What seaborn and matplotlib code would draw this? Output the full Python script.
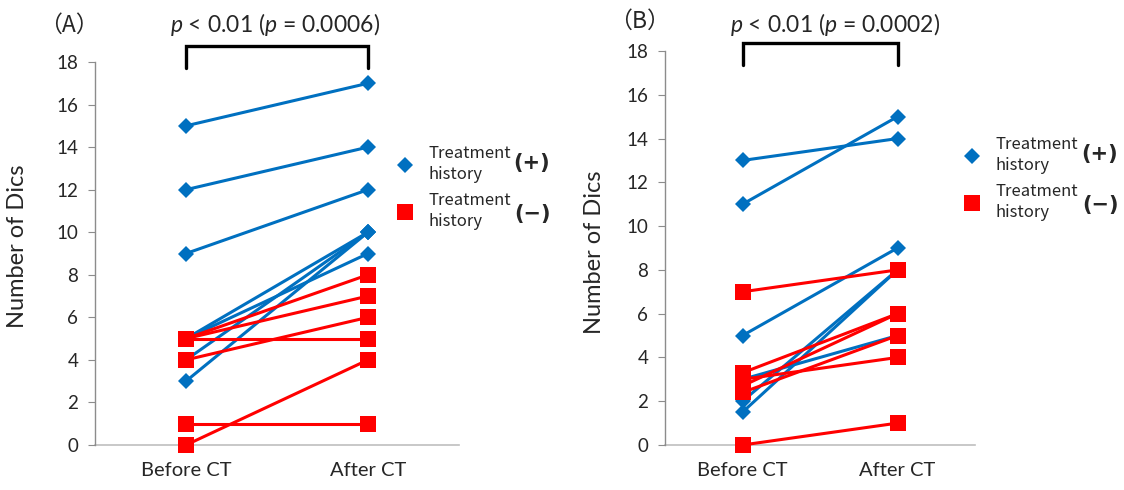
import numpy as np
import pandas as pd
import matplotlib
matplotlib.use("Agg")
import matplotlib.pyplot as plt
import matplotlib.transforms as mtransforms
import seaborn as sns
from matplotlib.lines import Line2D

# values
times = ['Before CT', 'After CT']

a_before_plus = [15, 12, 9, 5, 5, 4, 3]
a_after_plus = [17, 14, 12, 10, 9, 10, 10]
a_before_minus = [5, 5, 5, 4, 1, 0]
a_after_minus = [8, 7, 5, 6, 1, 4]

b_before_plus = [13, 11, 5, 3, 2, 1.5]
b_after_plus = [14, 15, 9, 5, 8, 8]
b_before_minus = [7, 3.3, 3.0, 2.7, 2.4, 0]
b_after_minus = [8, 6, 4, 6, 5, 1]

p_texts = ['$p$ < 0.01 ($p$ = 0.0006)', '$p$ < 0.01 ($p$ = 0.0002)']
panel_names = ['（A）', '（B）']

BLUE = '#0070C0'
RED = '#FF0000'


def long_df(bp, ap, bm, am):
    rows = []
    uid = 0
    for grp, before, after in [('+', bp, ap), ('-', bm, am)]:
        for b, a in zip(before, after):
            rows.append({'id': uid, 'group': grp, 'time': times[0], 'discs': b})
            rows.append({'id': uid, 'group': grp, 'time': times[1], 'discs': a})
            uid += 1
    return pd.DataFrame(rows)


df_a = long_df(a_before_plus, a_after_plus, a_before_minus, a_after_minus)
df_b = long_df(b_before_plus, b_after_plus, b_before_minus, b_after_minus)

sns.set_style('white')
plt.rcParams['font.family'] = ['Lato', 'DejaVu Sans']
plt.rcParams['mathtext.fontset'] = 'custom'
plt.rcParams['mathtext.rm'] = 'Lato'
plt.rcParams['mathtext.it'] = 'Lato:italic'

fig = plt.figure(figsize=(11.24, 4.9), dpi=100)
W, H = 1124, 490
ax_a = fig.add_axes([95 / W, 45 / H, 364 / W, 383 / H])
ax_b = fig.add_axes([665 / W, 45 / H, 310 / W, 394 / H])

# ax, data, bracket top/bottom, p-text x, label x (axes), ylabel xy, legend marker x, y1, y2, sign x, panel label y
setups = [
    (ax_a, df_a, 18.75, 17.7, 0.49, -0.071, (-0.184, 0.52), 405, 166, 213, 532, 25),
    (ax_b, df_b, 18.36, 17.36, 0.60, -0.081, (-0.194, 0.49), 972, 157, 204, 1100, 21),
]

for i, (ax, df, br_top, br_bot, px, lab_x, ylab_xy, lx, ly1, ly2, sx, lab_y) in enumerate(setups):
    sns.lineplot(data=df, x='time', y='discs', hue='group', style='group',
                 units='id', estimator=None, palette={'+': BLUE, '-': RED},
                 markers={'+': 'D', '-': 's'}, dashes=False, linewidth=2.2,
                 markersize=12, markeredgewidth=0, legend=False, ax=ax)
    for ln in ax.lines:
        ln.set_clip_on(False)
        if ln.get_marker() == 'D':
            ln.set_markersize(8)
    ax.set_xlim(-0.5, 1.5)
    ax.set_ylim(0, 18)
    ax.set_yticks(np.arange(0, 19, 2))
    ax.set_xlabel('')
    ax.set_ylabel('Number of Dics', fontsize=17)
    ax.yaxis.set_label_coords(*ylab_xy)
    ax.tick_params(axis='y', labelsize=13.5, length=5, color='#8c8c8c', left=True, pad=7)
    ax.tick_params(axis='x', labelsize=14.5, length=0, pad=12)
    for s in ['top', 'right']:
        ax.spines[s].set_visible(False)
    ax.spines['left'].set_color('#8c8c8c')
    ax.spines['bottom'].set_color('#bfbfbf')
    ax.spines['left'].set_linewidth(1)
    ax.spines['bottom'].set_linewidth(1.2)
    ax.spines['bottom'].set_zorder(0.5)

    # significance bracket
    ax.plot([0, 0, 1, 1], [br_bot, br_top, br_top, br_bot], color='black',
            lw=2.4, clip_on=False, solid_joinstyle='miter')
    trans = mtransforms.blended_transform_factory(ax.transData, fig.transFigure)
    ax.text(px, 1 - 25 / H, p_texts[i], transform=trans, ha='center', va='center',
            fontsize=16.5)
    trans2 = mtransforms.blended_transform_factory(ax.transAxes, fig.transFigure)
    ax.text(lab_x, 1 - lab_y / H, panel_names[i], transform=trans2, ha='center',
            va='center', fontsize=16.5, family=['Noto Sans CJK JP', 'DejaVu Sans'])

    # legend
    fs = 12
    handles = [Line2D([], [], ls='none', marker='D', color=BLUE, markersize=8, mew=0),
               Line2D([], [], ls='none', marker='s', color=RED, markersize=11, mew=0)]
    leg = ax.legend(handles, ['Treatment\nhistory', 'Treatment\nhistory'],
                    loc='upper left', bbox_to_anchor=((lx - 8.3) / W, 1 - (ly1 - 21) / H),
                    bbox_transform=fig.transFigure, frameon=False,
                    handlelength=1.0, handletextpad=0.9, labelspacing=0.55,
                    borderpad=0, borderaxespad=0,
                    prop={'family': ['Noto Sans CJK JP', 'DejaVu Sans'], 'size': fs})
    for t in leg.get_texts():
        t.set_linespacing(1.3)
    fig.text(sx / W, 1 - (ly1 - 3) / H, '(+)', ha='center', va='center',
             fontsize=15, fontweight='bold', family=['DejaVu Sans'])
    fig.text(sx / W, 1 - (ly2 + 1) / H, '(\u2212)', ha='center', va='center',
             fontsize=15, fontweight='bold', family=['DejaVu Sans'])

fig.savefig('out.png', dpi=100)
